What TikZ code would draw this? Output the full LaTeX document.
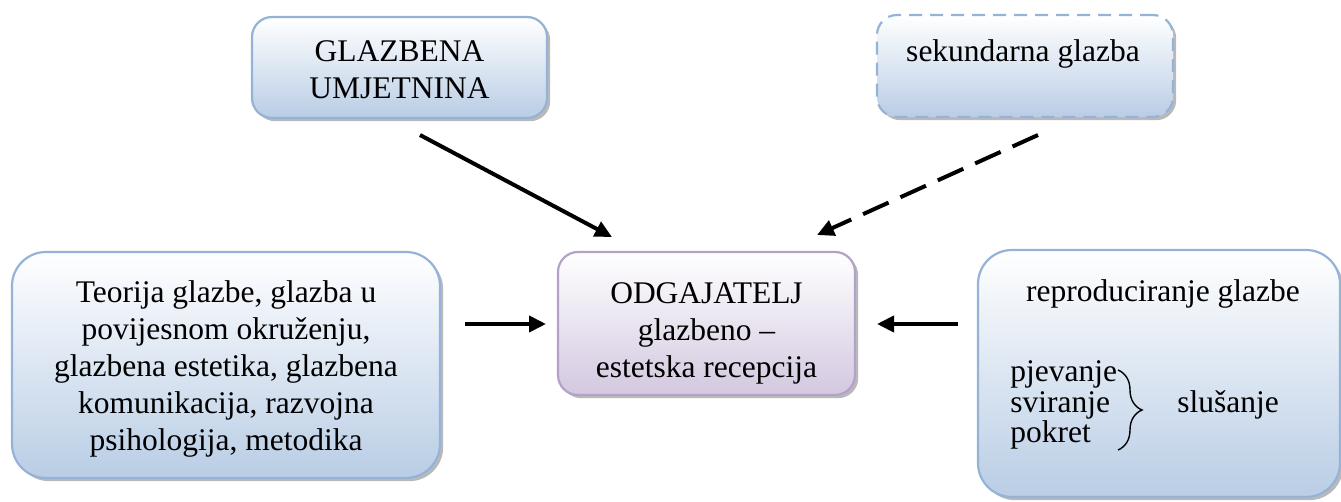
\documentclass[tikz,border=0pt]{standalone}
\usepackage{fontspec}
\setmainfont{Liberation Serif}
\usetikzlibrary{shadows,arrows.meta,decorations.pathreplacing}
\definecolor{bluebd}{HTML}{95B3D7}
\definecolor{bluebot}{HTML}{B9CDE5}
\definecolor{lilbd}{HTML}{B3A2C7}
\definecolor{lilbot}{HTML}{D3C8E0}
\tikzset{
  box/.style={draw=bluebd, line width=1.1pt, top color=white, bottom color=bluebot,
    rounded corners=10pt, inner sep=0pt,
    drop shadow={shadow xshift=1.6pt, shadow yshift=-1.6pt, fill=black!50, opacity=0.55}},
  lilbox/.style={box, draw=lilbd, bottom color=lilbot},
  txt/.style={font=\fontsize{15.75}{18.5}\selectfont, align=center, inner sep=0pt},
  arr/.style={line width=2pt, -{Triangle[length=8.5pt,width=8pt]}},
  dasharr/.style={arr, dash pattern=on 14pt off 6.5pt},
}
\begin{document}
\begin{tikzpicture}[x=0.5pt,y=-0.5pt]
\useasboundingbox (0,0) rectangle (1341,502);
% boxes
\node[box, minimum width=147.5pt, minimum height=50.5pt] (glz) at (399.5,67.5) {};
\node[box, dash pattern=on 6.5pt off 4pt, minimum width=148pt, minimum height=51pt] (sek) at (1025,66) {};
\node[lilbox, minimum width=148.5pt, minimum height=71.5pt] (odg) at (706.5,323.5) {};
\node[box, rounded corners=17pt, minimum width=214pt, minimum height=113pt] (teo) at (226,365) {};
\node[box, rounded corners=17pt, minimum width=181pt, minimum height=123.5pt] (rep) at (1159,373.5) {};
% texts
\node[txt] (glztxt) at (399.5,70) {GLAZBENA\\UMJETNINA};
\node[txt, anchor=base] (sektxt) at (1023,62) {sekundarna glazba};
\node[txt] (odgtxt) at (706.5,333) {ODGAJATELJ\\glazbeno –\\estetska recepcija};
\node[txt] (teotxt) at (226,369) {Teorija glazbe, glazba u\\povijesnom okruženju,\\glazbena estetika, glazbena\\komunikacija, razvojna\\psihologija, metodika};
\node[txt, anchor=base] (reptxt) at (1163,302) {reproduciranje glazbe};
\node[txt, anchor=base west] (pje) at (1010,382) {pjevanje};
\node[txt, anchor=base west] (svi) at (1010,413) {sviranje};
\node[txt, anchor=base west] (pok) at (1010,443) {pokret};
\node[txt, anchor=base west] (slu) at (1177,413) {slušanje};
% brace
\coordinate (b1) at (1118,370);
\coordinate (b2) at (1118,450);
\draw[line width=0.7pt, decorate, decoration={brace, amplitude=12pt, aspect=0.5}] (b1) -- (b2);
% arrows
\coordinate (a1s) at (420,135);
\coordinate (a1e) at (612,237);
\coordinate (a2s) at (1038,135);
\coordinate (a2e) at (817,235);
\coordinate (a3s) at (465,324);
\coordinate (a3e) at (546,324);
\coordinate (a4s) at (958,324);
\coordinate (a4e) at (877,324);
\draw[arr] (a1s) -- (a1e);
\draw[dasharr] (a2s) -- (a2e);
\draw[arr] (a3s) -- (a3e);
\draw[arr] (a4s) -- (a4e);
\end{tikzpicture}
\end{document}
